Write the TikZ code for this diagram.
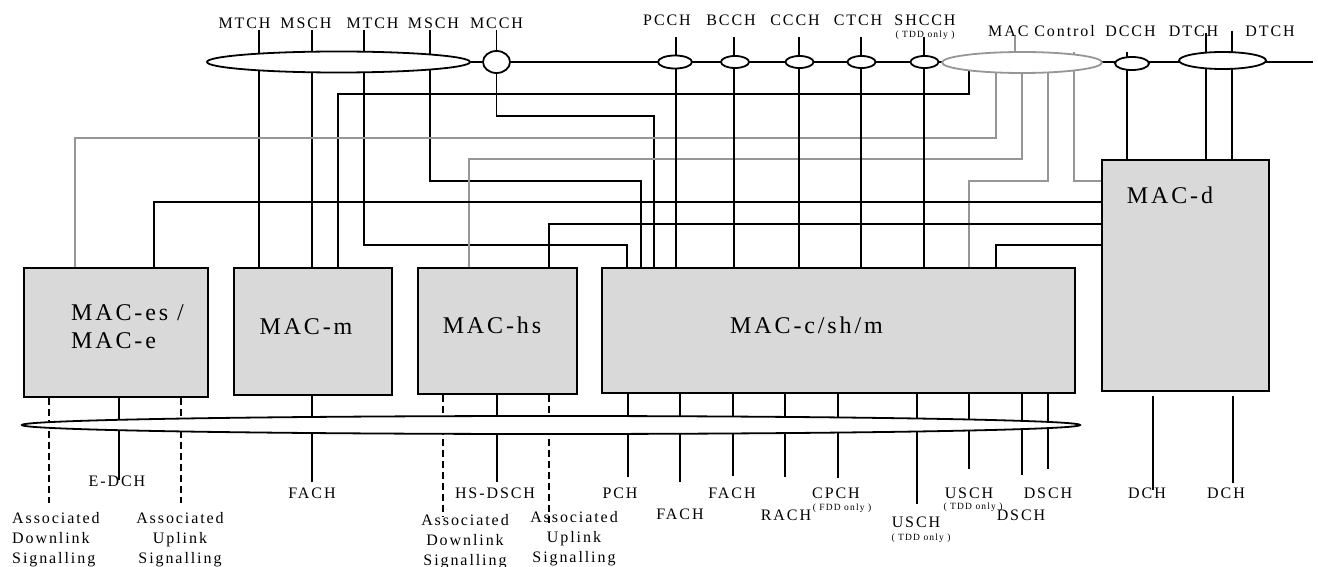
\documentclass[tikz,border=0pt]{standalone}
\usepackage{fontspec}
\setmainfont{Liberation Serif}[LetterSpace=12]
\usetikzlibrary{shapes.geometric}
\pgfdeclarelayer{bg}
\pgfsetlayers{bg,main}
\definecolor{boxgray}{RGB}{217,217,217}
\definecolor{linegray}{RGB}{150,150,150}
\begin{document}
\begin{tikzpicture}[x=1pt,y=-1pt,
  box/.style={draw=black, line width=1.9pt, fill=boxgray, inner sep=0, anchor=north west},
  conn/.style={line width=1.8pt, draw=black},
  gconn/.style={line width=1.8pt, draw=linegray},
  sig/.style={line width=2.6pt, draw=black, dash pattern=on 7pt off 4pt},
  ell/.style={draw=black, ellipse, fill=white, line width=1.8pt, inner sep=0},
  gell/.style={ell, draw=linegray},
  lab/.style={inner sep=0, font=\fontsize{16}{20}\selectfont},
  blab/.style={inner sep=0, font=\fontsize{24}{28}\selectfont, anchor=base},
  tiny/.style={inner sep=0, font=\fontsize{9.5}{10}\selectfont},
]
\useasboundingbox (0,0) rectangle (1318,567);

% ---------- boxes ----------
\node[box, minimum width=184.3pt, minimum height=129pt] (mace)  at (22.7,267) {};
\node[box, minimum width=158pt,   minimum height=127pt] (macm)  at (233,267) {};
\node[box, minimum width=159pt,   minimum height=126pt] (machs) at (417,267) {};
\node[box, minimum width=473pt,   minimum height=125pt] (macc)  at (601,267) {};
\node[box, minimum width=167pt,   minimum height=231pt] (macd)  at (1101,159) {};

\node[inner sep=0, font=\fontsize{24}{28}\selectfont, align=left, anchor=north west] (tmace) at (71,304) {MAC-es /\\MAC-e};
\node[blab] (tmacm)  at (306,334) {MAC-m};
\node[blab] (tmachs) at (492,333) {MAC-hs};
\node[blab] (tmacc)  at (806.5,333) {MAC-c/sh/m};
\node[blab] (tmacd)  at (1170,204) {MAC-d};

% ---------- top ellipses ----------
\node[ell, minimum width=263pt, minimum height=21pt] (bigell) at (338.5,62) {};
\node[ell, minimum width=27pt,  minimum height=22pt] (mcce)   at (496.5,62) {};
\node[ell, minimum width=34pt,  minimum height=13pt] (pcce)   at (675,62) {};
\node[ell, minimum width=28pt,  minimum height=12pt] (bcce)   at (735,62) {};
\node[ell, minimum width=28pt,  minimum height=12pt] (ccce)   at (799.5,62) {};
\node[ell, minimum width=28pt,  minimum height=12pt] (ctce)   at (861.5,62) {};
\node[ell, minimum width=28pt,  minimum height=12pt] (shce)   at (924.5,62) {};
\node[gell, minimum width=160pt, minimum height=21pt] (macctl) at (1022,62.5) {};
\node[ell, minimum width=34pt,  minimum height=13pt] (dcce)   at (1132,63.5) {};
\node[ell, minimum width=87pt,  minimum height=17pt] (dtce)   at (1222.5,60.5) {};

% ---------- bottom bus ----------
\node[ell, minimum width=1058pt, minimum height=18pt] (bus) at (551,425) {};

% ---------- coordinates ----------
\coordinate (rEnd) at (1313,62);
\coordinate (tMT1) at (259,30);
\coordinate (tMS1) at (312,30);
\coordinate (tMT2) at (364,30);
\coordinate (tMS2) at (430,30);
\coordinate (tMC)  at (496.5,30);
\coordinate (tPC) at (676,37);
\coordinate (tBC) at (734,37);
\coordinate (tCC) at (799,37);
\coordinate (tCT) at (861,37);
\coordinate (tSH) at (924,37);
\coordinate (tCtl) at (1015,35);
\coordinate (tDC) at (1127,52);
\coordinate (tDT1) at (1206,33);
\coordinate (tDT2) at (1232,31);
\coordinate (cB)  at (969,62);
\coordinate (cG1) at (996,62);
\coordinate (cG2) at (1022,62);
\coordinate (cG3) at (1048,62);
\coordinate (cG4) at (1074,52);
\coordinate (j1) at (627,245);
\coordinate (j2) at (640.6,181);
\coordinate (j3) at (654,116);
\coordinate (j4) at (338,94);
\coordinate (j5) at (75,137.7);
\coordinate (j6) at (469,159);
\coordinate (j7) at (969,181);
\coordinate (j8) at (154,202);
\coordinate (j9) at (549,224);
\coordinate (j10) at (996,245);
% bottom ends
\coordinate (b1) at (49,503);
\coordinate (b2) at (119,480);
\coordinate (b3) at (181,503);
\coordinate (b4) at (312,482);
\coordinate (b5) at (443,517);
\coordinate (b6) at (497,482);
\coordinate (b7) at (549,525);
\coordinate (c1) at (628,477);
\coordinate (c2) at (680,482);
\coordinate (c3) at (733,476);
\coordinate (c4) at (785,477);
\coordinate (c5) at (838,478);
\coordinate (c6) at (917,504);
\coordinate (c7) at (969,469);
\coordinate (c8) at (1022,475);
\coordinate (c9) at (1048,469);
\coordinate (d1) at (1153,490);
\coordinate (d2) at (1233,483);

\begin{pgfonlayer}{bg}
  \draw[conn] (bigell.east) -- (bigell.east -| rEnd);
  \draw[conn] (tMT1) -- (tMT1 |- macm.north);
  \draw[conn] (tMS1) -- (tMS1 |- macm.north);
  \draw[conn] (tMT2) |- (j1) -- (j1 |- macc.north);
  \draw[conn] (tMS2) |- (j2) -- (j2 |- macc.north);
  \draw[conn] (tMC) |- (j3) -- (j3 |- macc.north);
  \draw[conn] (cB) |- (j4) -- (j4 |- macm.north);
  \draw[gconn] (cG1) |- (j5) -- (j5 |- mace.north);
  \draw[gconn] (cG2) |- (j6) -- (j6 |- machs.north);
  \draw[gconn] (cG3) |- (j7) -- (j7 |- macc.north);
  \draw[gconn] (cG4) |- (j7 -| macd.west);
  \draw[gconn] (tCtl) -- (tCtl |- macctl.center);
  \foreach \p in {tPC,tBC,tCC,tCT,tSH}
    \draw[conn] (\p) -- (\p |- macc.north);
  \foreach \p in {tDC,tDT1,tDT2}
    \draw[conn] (\p) -- (\p |- macd.north);
  \draw[conn] (macd.west |- j8) -| (j8 |- mace.north);
  \draw[conn] (macd.west |- j9) -| (j9 |- machs.north);
  \draw[conn] (macd.west |- j10) -| (j10 |- macc.north);
  % bottom
  \draw[sig] (b1 |- mace.south) -- (b1);
  \draw[conn] (b2 |- mace.south) -- (b2);
  \draw[sig] (b3 |- mace.south) -- (b3);
  \draw[conn] (b4 |- macm.south) -- (b4);
  \draw[sig] (b5 |- machs.south) -- (b5);
  \draw[conn] (b6 |- machs.south) -- (b6);
  \draw[sig] (b7 |- machs.south) -- (b7);
  \foreach \p in {c1,c2,c3,c4,c5,c6,c7,c8,c9}
    \draw[conn] (\p |- macc.south) -- (\p);
  \draw[conn] ([yshift=-4pt]d1 |- macd.south) -- (d1);
  \draw[conn] ([yshift=-4pt]d2 |- macd.south) -- (d2);
\end{pgfonlayer}

% ---------- top labels ----------
\node[lab] (lMT1) at (244.5,23.5) {MTCH};
\node[lab] (lMS1) at (306,23.5) {MSCH};
\node[lab] (lMT2) at (372.5,23.5) {MTCH};
\node[lab] (lMS2) at (433.5,23.5) {MSCH};
\node[lab] (lMC)  at (496.5,23.5) {MCCH};
\node[lab] (lPC) at (667,20.5) {PCCH};
\node[lab] (lBC) at (731,20.5) {BCCH};
\node[lab] (lCC) at (795,20.5) {CCCH};
\node[lab] (lCT) at (858,20.5) {CTCH};
\node[lab] (lSH) at (925,20.5) {SHCCH};
\node[tiny] (lSHt) at (925,35) {( TDD only )};
\node[lab] (lCtl) at (1041.5,31) {MAC Control};
\node[lab] (lDC) at (1130.5,31) {DCCH};
\node[lab] (lDT1) at (1193.5,31) {DTCH};
\node[lab] (lDT2) at (1270,31) {DTCH};

% ---------- bottom labels ----------
\node[lab] (lED) at (117,481) {E-DCH};
\node[lab, align=left, anchor=north west] (lADL1) at (12,512) {Associated\\Downlink\\Signalling};
\node[lab, align=center, anchor=north] (lAUL1) at (180,512) {Associated\\Uplink\\Signalling};
\node[lab] (lFA1) at (312,493) {FACH};
\node[lab] (lHS) at (495,493) {HS-DSCH};
\node[lab, align=center, anchor=north] (lADL2) at (465,514) {Associated\\Downlink\\Signalling};
\node[lab, align=center, anchor=north] (lAUL2) at (574,511) {Associated\\Uplink\\Signalling};
\node[lab] (lPCH) at (620,493) {PCH};
\node[lab] (lFA2) at (680,514) {FACH};
\node[lab] (lFA3) at (732,493) {FACH};
\node[lab] (lRA) at (786,515) {RACH};
\node[lab] (lCP) at (836,493) {CPCH};
\node[tiny] (lCPt) at (842,508) {( FDD only )};
\node[lab] (lUS1) at (916,522) {USCH};
\node[tiny] (lUS1t) at (921,538) {( TDD only )};
\node[lab] (lUS2) at (969,493) {USCH};
\node[tiny] (lUS2t) at (973,507) {( TDD only )};
\node[lab] (lDS1) at (1021,515) {DSCH};
\node[lab] (lDS2) at (1048,493) {DSCH};
\node[lab] (lDCH1) at (1147,493) {DCH};
\node[lab] (lDCH2) at (1226,493) {DCH};
\end{tikzpicture}
\end{document}
